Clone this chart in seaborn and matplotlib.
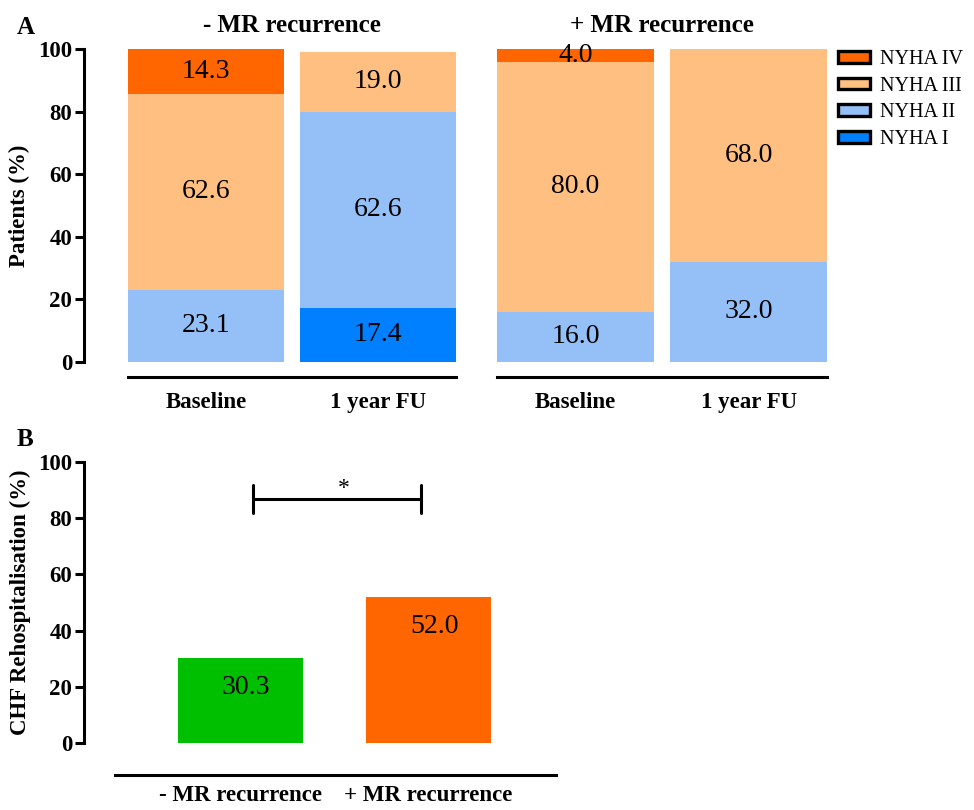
import numpy as np
import pandas as pd
import seaborn as sns
import matplotlib.pyplot as plt
from matplotlib.patches import Patch

sns.set_style("ticks")
plt.rcParams["font.family"] = ["Liberation Serif", "DejaVu Serif"]
plt.rcParams["axes.linewidth"] = 2.2
for key in ["text.color", "axes.labelcolor", "xtick.color", "ytick.color", "axes.edgecolor"]:
    plt.rcParams[key] = "black"

# NYHA class distribution (%), order NYHA I, II, III, IV
timepoints = ["Baseline", "1 year FU"]
nyha_classes = ["NYHA I", "NYHA II", "NYHA III", "NYHA IV"]
nyha_colors = ["#0080FF", "#94BFF7", "#FFBF80", "#FF6600"]

no_mr_baseline = [0.0, 23.1, 62.6, 14.3]
no_mr_fu = [17.4, 62.6, 19.0, 0.0]
mr_baseline = [0.0, 16.0, 80.0, 4.0]
mr_fu = [0.0, 32.0, 68.0, 0.0]

group_titles = ["- MR recurrence", "+ MR recurrence"]

# CHF rehospitalisation (%)
rehosp_groups = ["- MR recurrence", "+ MR recurrence"]
rehosp_values = [30.3, 52.0]
rehosp_colors = ["#00BF00", "#FF6600"]

W, H = 974, 810


def px_axes(fig, left, bottom, right, top):
    # pixel box (from top-left) -> figure fraction
    return fig.add_axes([left / W, 1 - bottom / H, (right - left) / W, (bottom - top) / H])


def bold_ticks(ax, size=16):
    for lbl in ax.get_xticklabels() + ax.get_yticklabels():
        lbl.set_fontweight("bold")
        lbl.set_fontsize(size)


def draw_stacked(ax, baseline, fu, title):
    df = pd.DataFrame({
        "timepoint": np.repeat(timepoints, len(nyha_classes)),
        "nyha": nyha_classes * 2,
        "value": baseline + fu,
    })
    df["top"] = df.groupby("timepoint")["value"].cumsum()
    df["bottom"] = df["top"] - df["value"]

    # draw cumulative totals from the top class down so each one overlays the next
    for cls, col in reversed(list(zip(nyha_classes, nyha_colors))):
        sub = df[df["nyha"] == cls]
        sns.barplot(data=sub, x="timepoint", y="top", order=timepoints, color=col,
                    width=0.907, saturation=1, errorbar=None, linewidth=0, ax=ax)

    for _, r in df[df["value"] > 0].iterrows():
        ax.text(timepoints.index(r["timepoint"]), (r["top"] + r["bottom"]) / 2,
                f"{r['value']:.1f}", ha="center", va="center", fontsize=20)

    ax.set_xlim(-0.453, 1.453)
    ax.set_ylim(0, 100)
    ax.set_xlabel("")
    ax.set_ylabel("")
    ax.set_title(title, fontsize=18, fontweight="bold", pad=12)
    ax.spines["bottom"].set_position(("outward", 10.8))
    ax.tick_params(axis="x", length=0, pad=11)


fig = plt.figure(figsize=(W / 100, H / 100), dpi=100)

# Panel A
ax_a1 = px_axes(fig, 128, 362, 456, 49)
ax_a2 = px_axes(fig, 497, 362, 827, 49)

draw_stacked(ax_a1, no_mr_baseline, no_mr_fu, group_titles[0])
draw_stacked(ax_a2, mr_baseline, mr_fu, group_titles[1])

sns.despine(ax=ax_a1)
sns.despine(ax=ax_a2, left=True)
ax_a1.spines["left"].set_position(("outward", 31.7))
ax_a1.set_yticks([0, 20, 40, 60, 80, 100])
ax_a1.tick_params(axis="y", length=6.5, width=2.2, pad=2)
ax_a1.set_ylabel("Patients (%)", fontsize=16.5, fontweight="bold")
ax_a1.yaxis.set_label_coords(-0.3, 0.5)
ax_a2.set_yticks([])
bold_ticks(ax_a1, 16.5)
bold_ticks(ax_a2, 16.5)

handles = [Patch(facecolor=c, edgecolor="black", linewidth=2.4) for c in nyha_colors][::-1]
fig.legend(handles, nyha_classes[::-1], loc="upper left", bbox_to_anchor=(838 / W, 1 - 50 / H),
           frameon=False, fontsize=14.5, handlelength=1.6, handleheight=0.5,
           labelspacing=0.38, handletextpad=0.5, borderaxespad=0, borderpad=0)

# Panel B
ax_b = px_axes(fig, 115, 743, 556, 462)
sns.barplot(x=rehosp_groups, y=rehosp_values, hue=rehosp_groups, palette=rehosp_colors,
            legend=False, width=0.665, saturation=1, linewidth=0, ax=ax_b)
for i, v in enumerate(rehosp_values):
    ax_b.text(i + 0.03, v - 10.5, f"{v:.1f}", ha="center", va="center", fontsize=20)

ax_b.set_xlim(-0.668, 1.678)
ax_b.set_ylim(0, 100)
ax_b.set_yticks([0, 20, 40, 60, 80, 100])
sns.despine(ax=ax_b)
ax_b.spines["left"].set_position(("outward", 22.3))
ax_b.spines["bottom"].set_position(("outward", 23))
ax_b.tick_params(axis="y", length=6.5, width=2.2, pad=2)
ax_b.tick_params(axis="x", length=0, pad=7)
ax_b.set_ylabel("CHF Rehospitalisation (%)", fontsize=16.5, fontweight="bold")
ax_b.yaxis.set_label_coords(-0.19, 0.5)
bold_ticks(ax_b, 16.5)

# significance bracket
ax_b.plot([0.066, 0.96], [86.8, 86.8], color="black", lw=2.2, clip_on=False)
ax_b.plot([0.066, 0.066], [81.9, 91.8], color="black", lw=2.2, clip_on=False)
ax_b.plot([0.96, 0.96], [81.9, 91.8], color="black", lw=2.2, clip_on=False)
ax_b.text(0.55, 90.5, "*", ha="center", va="center", fontsize=17)

fig.text(26 / W, 1 - 28 / H, "A", fontsize=18, fontweight="bold", ha="center", va="center")
fig.text(25 / W, 1 - 440 / H, "B", fontsize=18, fontweight="bold", ha="center", va="center")

fig.savefig("out.png", dpi=100)
